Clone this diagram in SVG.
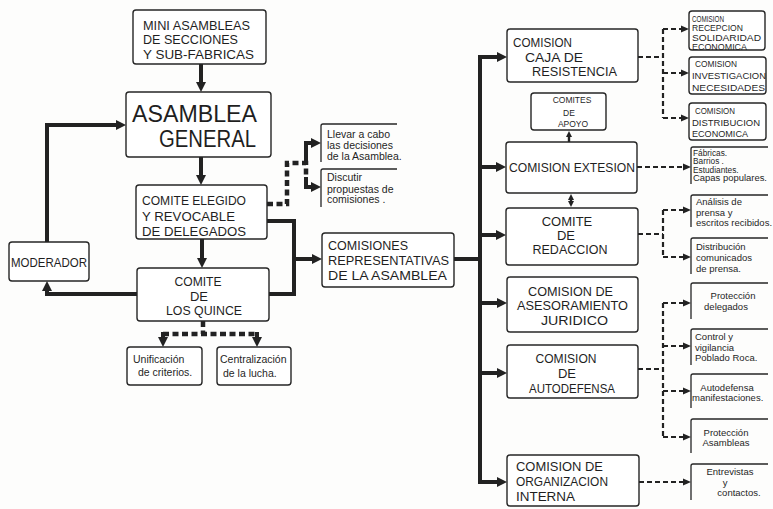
<svg xmlns="http://www.w3.org/2000/svg" width="773" height="509" viewBox="0 0 773 509">
<style>
.bg{fill:#fdfdfc}
.box{fill:#fff;stroke:#262626;stroke-width:1.4}
.br{fill:none;stroke:#262626;stroke-width:1.3}
text{font-family:"Liberation Sans",Arial,sans-serif;fill:#1f1f1f}
.c{font-size:13px}
.g{font-size:23px}
.s{font-size:10.5px}
.r{font-size:9.5px}
.f{font-size:8.3px}
.x{font-size:8.5px}
.m{text-anchor:middle}
.sol{fill:none;stroke:#222;stroke-width:4}
.thin{fill:none;stroke:#222;stroke-width:2.4}
.dsh{fill:none;stroke:#222;stroke-width:2.2;stroke-dasharray:5 3}
.tdsh{fill:none;stroke:#222;stroke-width:4.5;stroke-dasharray:6 3.5}
</style>
<defs>
<marker id="a" viewBox="0 0 10 10" refX="2" refY="5" markerWidth="10" markerHeight="10" markerUnits="userSpaceOnUse" orient="auto"><path d="M0,0 L10,5 L0,10 z" fill="#222"/></marker>
<marker id="d" viewBox="0 0 8 8" refX="1" refY="4" markerWidth="8" markerHeight="8" markerUnits="userSpaceOnUse" orient="auto"><path d="M0,0.5 L8,4 L0,7.5 z" fill="#222"/></marker>
<marker id="s" viewBox="0 0 6 6" refX="1" refY="3" markerWidth="6" markerHeight="6" markerUnits="userSpaceOnUse" orient="auto-start-reverse"><path d="M0,0 L6,3 L0,6 z" fill="#222"/></marker>
</defs>
<rect class="bg" x="0" y="0" width="773" height="509"/>

<g id="connectors">
<path class="sol" d="M201,64 V84" marker-end="url(#a)"/>
<path class="sol" d="M201,157 V177" marker-end="url(#a)"/>
<path class="sol" d="M202,239 V260" marker-end="url(#a)"/>
<path class="sol" d="M137,294 H47 V289" marker-end="url(#a)"/>
<path class="sol" d="M47,242 V125 H118" marker-end="url(#a)"/>
<path class="sol" d="M267,221 H294 V294 H269"/>
<path class="sol" d="M294,259 H314" marker-end="url(#a)"/>
<path class="sol" d="M454,259 H480"/>
<path class="sol" d="M480,55 V484"/>
<path class="sol" d="M478,57 H499" marker-end="url(#a)"/>
<path class="sol" d="M478,167 H498" marker-end="url(#a)"/>
<path class="sol" d="M478,235 H498" marker-end="url(#a)"/>
<path class="sol" d="M478,303 H499" marker-end="url(#a)"/>
<path class="sol" d="M478,373 H499" marker-end="url(#a)"/>
<path class="sol" d="M478,482 H499" marker-end="url(#a)"/>
<path class="thin" d="M571,199 V202" marker-start="url(#s)" marker-end="url(#s)"/>
<path class="thin" d="M569,142 V136" marker-end="url(#s)"/>
<path class="tdsh" d="M267,204 H287 V163 H306 V178"/>
<path class="sol" d="M306,164 V143 H313" marker-end="url(#a)"/>
<path class="sol" d="M306,177 V187 H313" marker-end="url(#a)"/>
<path class="tdsh" d="M203,321 V334 M163,334 H257"/>
<path class="sol" d="M163,332 V339" marker-end="url(#a)"/>
<path class="sol" d="M257,332 V339" marker-end="url(#a)"/>
<path class="dsh" d="M638,57 H663 M663,29 V118"/>
<path class="dsh" d="M663,29 H682" marker-end="url(#d)"/>
<path class="dsh" d="M663,73 H682" marker-end="url(#d)"/>
<path class="dsh" d="M663,118 H682" marker-end="url(#d)"/>
<path class="dsh" d="M637,167 H684" marker-end="url(#d)"/>
<path class="dsh" d="M638,234 H663 M663,210 V257"/>
<path class="dsh" d="M663,210 H684" marker-end="url(#d)"/>
<path class="dsh" d="M663,257 H684" marker-end="url(#d)"/>
<path class="dsh" d="M638,369 H663 M663,303 V437"/>
<path class="dsh" d="M663,303 H684" marker-end="url(#d)"/>
<path class="dsh" d="M663,346 H684" marker-end="url(#d)"/>
<path class="dsh" d="M663,391 H684" marker-end="url(#d)"/>
<path class="dsh" d="M663,437 H684" marker-end="url(#d)"/>
<path class="dsh" d="M639,482 H684" marker-end="url(#d)"/>
</g>

<g id="mini">
<rect class="box" x="133" y="10" width="133" height="54" rx="3"/>
<text class="c" x="143" y="29.5" textLength="107" lengthAdjust="spacingAndGlyphs">MINI ASAMBLEAS</text>
<text class="c" x="143" y="44" textLength="95" lengthAdjust="spacingAndGlyphs">DE SECCIONES</text>
<text class="c" x="143" y="58.5" textLength="111" lengthAdjust="spacingAndGlyphs">Y SUB-FABRICAS</text>
</g>
<g id="asamblea">
<rect class="box" x="126" y="92" width="145" height="65" rx="3"/>
<text class="g" x="132" y="122" textLength="125" lengthAdjust="spacingAndGlyphs">ASAMBLEA</text>
<text class="g" x="159" y="147" textLength="97" lengthAdjust="spacingAndGlyphs">GENERAL</text>
</g>
<g id="elegido">
<rect class="box" x="136" y="185" width="131" height="54" rx="3"/>
<text class="c" x="142" y="204.5" textLength="104" lengthAdjust="spacingAndGlyphs">COMITE ELEGIDO</text>
<text class="c" x="142" y="220.5" textLength="93" lengthAdjust="spacingAndGlyphs">Y REVOCABLE</text>
<text class="c" x="142" y="235.5" textLength="104" lengthAdjust="spacingAndGlyphs">DE DELEGADOS</text>
</g>
<g id="llevar">
<path class="br" d="M321,162 V126 Q321,124 323,124 H397"/>
<text class="s" x="327" y="137.5">Llevar a cabo</text>
<text class="s" x="327" y="148.5">las decisiones</text>
<text class="s" x="327" y="159.5">de la Asamblea.</text>
</g>
<g id="discutir">
<path class="br" d="M321,207 V171 Q321,169 323,169 H397"/>
<text class="s" x="327" y="180.5">Discutir</text>
<text class="s" x="327" y="192.5">propuestas de</text>
<text class="s" x="327" y="203">comisiones .</text>
</g>
<g id="moderador">
<rect class="box" x="9" y="242" width="80" height="39" rx="3"/>
<text class="c" x="11" y="266.5" textLength="76" lengthAdjust="spacingAndGlyphs">MODERADOR</text>
</g>
<g id="quince">
<rect class="box" x="137" y="268" width="132" height="53" rx="3"/>
<text class="c m" x="198" y="286" textLength="47" lengthAdjust="spacingAndGlyphs">COMITE</text>
<text class="c m" x="199" y="300.5">DE</text>
<text class="c m" x="204" y="315" textLength="76" lengthAdjust="spacingAndGlyphs">LOS QUINCE</text>
</g>
<g id="unificacion">
<rect class="box" x="127" y="347" width="75" height="38" rx="3"/>
<text class="s" x="133" y="362.5">Unificación</text>
<text class="s" x="138" y="376">de criterios.</text>
</g>
<g id="centralizacion">
<rect class="box" x="217" y="347" width="74" height="38" rx="3"/>
<text class="s" x="220" y="363">Centralización</text>
<text class="s" x="223" y="377">de la lucha.</text>
</g>
<g id="comisiones">
<rect class="box" x="322" y="233" width="132" height="54" rx="3"/>
<text class="c" x="328" y="249.5" textLength="80" lengthAdjust="spacingAndGlyphs">COMISIONES</text>
<text class="c" x="328" y="264.5" textLength="121" lengthAdjust="spacingAndGlyphs">REPRESENTATIVAS</text>
<text class="c" x="328" y="279.5" textLength="119" lengthAdjust="spacingAndGlyphs">DE LA ASAMBLEA</text>
</g>
<g id="caja">
<rect class="box" x="507" y="29" width="131" height="53" rx="3"/>
<text class="c" x="513" y="46.5" textLength="59" lengthAdjust="spacingAndGlyphs">COMISION</text>
<text class="c" x="525" y="61.5" textLength="58" lengthAdjust="spacingAndGlyphs">CAJA DE</text>
<text class="c" x="532" y="75.5" textLength="85" lengthAdjust="spacingAndGlyphs">RESISTENCIA</text>
</g>
<g id="apoyo">
<rect class="box" x="531" y="93" width="75" height="37" rx="3"/>
<text class="x m" x="572" y="103">COMITES</text>
<text class="x m" x="569" y="116">DE</text>
<text class="x m" x="573" y="127">APOYO</text>
</g>
<g id="recepcion">
<rect class="box" x="689" y="11" width="76" height="39" rx="3"/>
<text class="x" x="692" y="22" textLength="32" lengthAdjust="spacingAndGlyphs">COMISION</text>
<text class="x" x="692" y="31" textLength="51" lengthAdjust="spacingAndGlyphs">RECEPCION</text>
<text class="x" x="692" y="40.5" textLength="69" lengthAdjust="spacingAndGlyphs">SOLIDARIDAD</text>
<text class="x" x="692" y="49.5" textLength="55" lengthAdjust="spacingAndGlyphs">ECONOMICA</text>
</g>
<g id="investigacion">
<rect class="box" x="689" y="57" width="77" height="37" rx="3"/>
<text class="x" x="695" y="66.5" textLength="42" lengthAdjust="spacingAndGlyphs">COMISION</text>
<text class="x" x="692" y="78.5" textLength="74" lengthAdjust="spacingAndGlyphs">INVESTIGACION</text>
<text class="x" x="692" y="90.5" textLength="73" lengthAdjust="spacingAndGlyphs">NECESIDADES</text>
</g>
<g id="distribucion">
<rect class="box" x="689" y="103" width="77" height="37" rx="3"/>
<text class="x" x="695" y="113.5" textLength="40" lengthAdjust="spacingAndGlyphs">COMISION</text>
<text class="x" x="692" y="125.5" textLength="68" lengthAdjust="spacingAndGlyphs">DISTRIBUCION</text>
<text class="x" x="692" y="136.5" textLength="56" lengthAdjust="spacingAndGlyphs">ECONOMICA</text>
</g>
<g id="extesion">
<rect class="box" x="506" y="142" width="131" height="51" rx="3"/>
<text class="c" x="509" y="171.5" textLength="126" lengthAdjust="spacingAndGlyphs">COMISION EXTESION</text>
</g>
<g id="fabricas">
<path class="br" d="M691,184 V149 Q691,147 693,147 H768"/>
<text class="f" x="693" y="155.5">Fábricas.</text>
<text class="f" x="693" y="164">Barrios .</text>
<text class="f" x="693" y="172.5">Estudiantes.</text>
<text class="f" x="693" y="181" textLength="74" lengthAdjust="spacingAndGlyphs">Capas populares.</text>
</g>
<g id="redaccion">
<rect class="box" x="506" y="208" width="132" height="57" rx="3"/>
<text class="c m" x="567" y="225.5">COMITE</text>
<text class="c m" x="566" y="239.5">DE</text>
<text class="c m" x="570" y="253.5" textLength="75" lengthAdjust="spacingAndGlyphs">REDACCION</text>
</g>
<g id="analisis">
<path class="br" d="M691,227 V197 Q691,195 693,195 H768"/>
<text class="r" x="696" y="205">Análisis de</text>
<text class="r" x="696" y="215.5">prensa y</text>
<text class="r" x="696" y="226">escritos recibidos.</text>
</g>
<g id="distribucion-prensa">
<path class="br" d="M691,274 V240 Q691,238 693,238 H768"/>
<text class="r" x="696" y="250">Distribución</text>
<text class="r" x="696" y="261">comunicados</text>
<text class="r" x="696" y="271.5">de prensa.</text>
</g>
<g id="asesoramiento">
<rect class="box" x="507" y="277" width="131" height="55" rx="3"/>
<text class="c" x="528" y="295.5" textLength="85" lengthAdjust="spacingAndGlyphs">COMISION DE</text>
<text class="c" x="517" y="309.5" textLength="111" lengthAdjust="spacingAndGlyphs">ASESORAMIENTO</text>
<text class="c" x="541" y="324.5" textLength="67" lengthAdjust="spacingAndGlyphs">JURIDICO</text>
</g>
<g id="autodefensa">
<rect class="box" x="507" y="345" width="131" height="53" rx="3"/>
<text class="c m" x="566" y="362.5" textLength="61" lengthAdjust="spacingAndGlyphs">COMISION</text>
<text class="c m" x="567" y="377.5">DE</text>
<text class="c m" x="572" y="392.5" textLength="86" lengthAdjust="spacingAndGlyphs">AUTODEFENSA</text>
</g>
<g id="proteccion-delegados">
<path class="br" d="M691,319 V285 Q691,283 693,283 H768"/>
<text class="r m" x="733" y="299">Protección</text>
<text class="r m" x="726" y="310">delegados</text>
</g>
<g id="control">
<path class="br" d="M691,365 V331 Q691,329 693,329 H768"/>
<text class="r" x="695" y="340">Control y</text>
<text class="r" x="695" y="350.5">vigilancia</text>
<text class="r" x="695" y="361">Poblado Roca.</text>
</g>
<g id="autodefensa-manif">
<path class="br" d="M691,408 V376 Q691,374 693,374 H768"/>
<text class="r m" x="727" y="391">Autodefensa</text>
<text class="r" x="692" y="401">manifestaciones.</text>
</g>
<g id="proteccion-asambleas">
<path class="br" d="M691,453 V421 Q691,419 693,419 H768"/>
<text class="r m" x="726" y="436">Protección</text>
<text class="r m" x="726" y="446">Asambleas</text>
</g>
<g id="entrevistas">
<path class="br" d="M691,500 V466 Q691,464 693,464 H768"/>
<text class="r m" x="730" y="475">Entrevistas</text>
<text class="r m" x="725" y="486">y</text>
<text class="r m" x="739" y="496">contactos.</text>
</g>
<g id="organizacion">
<rect class="box" x="507" y="455" width="132" height="51" rx="3"/>
<text class="c" x="516" y="471" textLength="87" lengthAdjust="spacingAndGlyphs">COMISION DE</text>
<text class="c" x="516" y="485.5" textLength="92" lengthAdjust="spacingAndGlyphs">ORGANIZACION</text>
<text class="c" x="516" y="501" textLength="59" lengthAdjust="spacingAndGlyphs">INTERNA</text>
</g>
</svg>
